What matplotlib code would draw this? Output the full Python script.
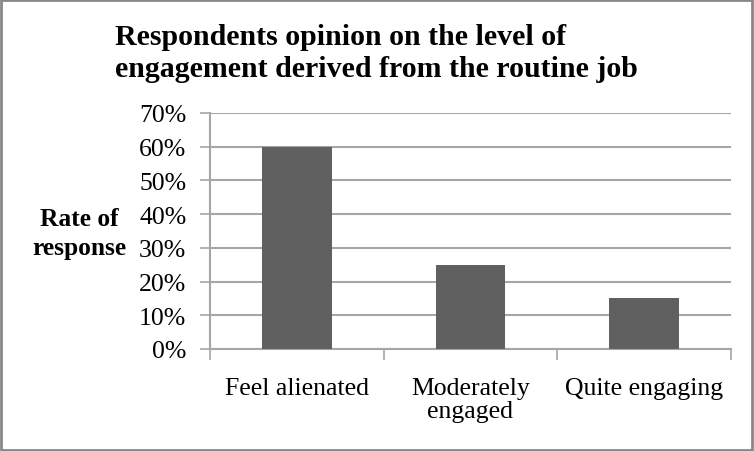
import matplotlib

matplotlib.use("Agg")
import matplotlib.pyplot as plt
from matplotlib.patches import Rectangle
from matplotlib.ticker import FixedLocator, PercentFormatter

# data
categories = ["Feel alienated", "Moderately\nengaged", "Quite engaging"]
response_rate = [60, 25, 15]
y_ticks = [0, 10, 20, 30, 40, 50, 60, 70]
title_lines = ["Respondents opinion on the level of",
               "engagement derived from the routine job"]
ylabel_lines = ["Rate of", "response"]

plt.rcParams["font.family"] = ["Liberation Serif", "DejaVu Serif"]

GRID = "#a6a6a6"
BAR = "#606060"
W, H = 754, 452

fig = plt.figure(figsize=(W / 100, H / 100), dpi=100)
ax = fig.add_axes([210 / W, 1 - 350 / H, 521 / W, 236 / H])

x = range(len(categories))
ax.bar(x, response_rate, width=0.40, color=BAR, zorder=3)

ax.set_xlim(-0.5, len(categories) - 0.5)
ax.set_ylim(0, 70)
ax.set_yticks(y_ticks)
ax.yaxis.set_major_formatter(PercentFormatter(decimals=0))
ax.grid(axis="y", color=GRID, linewidth=1.5, zorder=0)

ax.set_xticks(list(x))
ax.set_xticklabels(categories, fontsize=18.5, linespacing=1.1)
ax.xaxis.set_minor_locator(FixedLocator([i - 0.5 for i in range(len(categories) + 1)]))
ax.tick_params(axis="x", which="major", length=0, pad=20)
ax.tick_params(axis="x", which="minor", length=8, width=1.2, color=GRID, direction="out")
ax.tick_params(axis="y", length=7, width=1.2, color=GRID, labelsize=18.5, pad=10)

for side in ["top", "right"]:
    ax.spines[side].set_visible(False)
for side in ["left", "bottom"]:
    ax.spines[side].set_color(GRID)
    ax.spines[side].set_linewidth(1.5)

# title, left aligned, one text per line so the baselines sit where they should
for line, base in zip(title_lines, [45, 77]):
    fig.text(115 / W, 1 - base / H, line, ha="left", va="baseline",
             fontsize=21.5, fontweight="bold")

for line, base in zip(ylabel_lines, [226, 255]):
    fig.text(79 / W, 1 - base / H, line, ha="center", va="baseline",
             fontsize=18.4, fontweight="bold")

# grey frame around the whole chart
fig.patches.append(Rectangle((0.001, 0.002), 0.997, 0.995, transform=fig.transFigure,
                             fill=False, edgecolor="#888888", linewidth=2))

fig.savefig("out.png", dpi=100)
